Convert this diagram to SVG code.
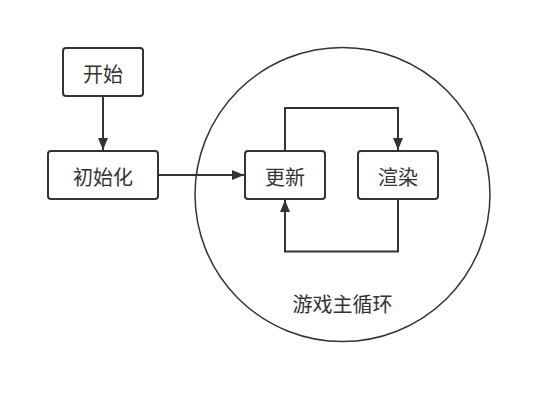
<svg xmlns="http://www.w3.org/2000/svg" width="551" height="404" viewBox="0 0 551 404">
<defs>
<style>
.box{fill:#ffffff;stroke:#333333;stroke-width:2}
.lbl{font-family:"Noto Sans CJK SC","Noto Sans",sans-serif;font-size:20px;fill:#333333;text-anchor:middle;dominant-baseline:central}
.edge{fill:none;stroke:#333333;stroke-width:2}
</style>
<marker id="arr" viewBox="0 0 12 12" refX="12" refY="6" markerWidth="12" markerHeight="12" markerUnits="userSpaceOnUse" orient="auto">
<path d="M0,1 L12,6 L0,11 Z" fill="#333333"/>
</marker>
</defs>
<rect width="551" height="404" fill="#ffffff"/>
<g id="loop">
<ellipse cx="342.5" cy="194.5" rx="147.5" ry="147" fill="none" stroke="#333333" stroke-width="1.5"/>
<text class="lbl" x="342.5" y="303">游戏主循环</text>
</g>
<g id="start">
<rect class="box" x="63" y="48" width="80" height="48" rx="3"/>
<text class="lbl" x="103" y="73.5">开始</text>
</g>
<g id="init">
<rect class="box" x="48" y="151" width="110" height="48" rx="3"/>
<text class="lbl" x="103" y="176.5">初始化</text>
</g>
<g id="update">
<rect class="box" x="245" y="151" width="80" height="48" rx="3"/>
<text class="lbl" x="285" y="176.5">更新</text>
</g>
<g id="render">
<rect class="box" x="358" y="151" width="80" height="48" rx="3"/>
<text class="lbl" x="398" y="176.5">渲染</text>
</g>
<g id="connectors">
<path class="edge" d="M103,96 L103,150" marker-end="url(#arr)"/>
<path class="edge" d="M158,175 L244,175" marker-end="url(#arr)"/>
<path class="edge" d="M285,151 L285,108 L398,108 L398,150" marker-end="url(#arr)"/>
<path class="edge" d="M398,199 L398,251.5 L285,251.5 L285,200" marker-end="url(#arr)"/>
</g>
</svg>
